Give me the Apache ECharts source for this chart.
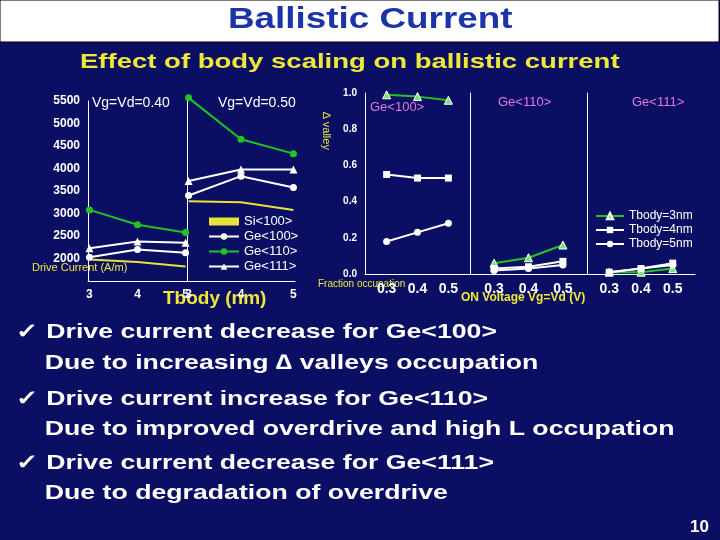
<!DOCTYPE html><html><head><meta charset="utf-8">
<script src="https://cdn.jsdelivr.net/npm/echarts@6/dist/echarts.min.js"></script>
<style>html,body{margin:0;background:#0b0f63}#c{width:720px;height:540px}</style></head><body><div id="c"></div>
<script>
const tbody=[3,4,5];
const si040=[1980,1920,1820], ge100_040=[2030,2200,2130], ge110_040=[3080,2750,2580], ge111_040=[2230,2380,2350];
const si050=[3270,3250,3080], ge100_050=[3400,3830,3580], ge110_050=[5570,4650,4330], ge111_050=[3720,3980,3980];
const vg=[0.3,0.4,0.5];
const g100_3=[0.99,0.98,0.96], g100_4=[0.55,0.53,0.53], g100_5=[0.18,0.23,0.28];
const g110_3=[0.06,0.09,0.16], g110_4=[0.03,0.04,0.07], g110_5=[0.02,0.03,0.05];
const g111_3=[0.01,0.01,0.03], g111_4=[0.01,0.03,0.06], g111_5=[0.01,0.03,0.05];
const bullets=["✓ Drive current decrease for Ge<100>","    Due to increasing ∆ valleys occupation","✓ Drive current increase for Ge<110>","    Due to improved overdrive and high L occupation","✓ Drive current decrease for Ge<111>","    Due to degradation of overdrive"];
const F='Liberation Sans, Arial, sans-serif';
const ax={axisLine:{lineStyle:{color:'#fff'}},axisTick:{show:false},splitLine:{show:false},axisLabel:{color:'#fff',fontFamily:F,fontSize:12,fontWeight:'bold'}};
const z=a=>tbody.map((x,i)=>[x,a[i]]);
const zv=a=>vg.map((x,i)=>[x,a[i]]);
const grids=[{left:88,width:99,top:101,height:180},{left:187,width:108,top:101,height:180},
 {left:365,width:105,top:93,height:181},{left:470,width:117,top:93,height:181},{left:587,width:108,top:93,height:181}];
const xA=[],yA=[];
for(let i=0;i<2;i++){xA.push(Object.assign({},ax,{type:'value',gridIndex:i,min:2.97,max:5.03,interval:1,axisLabel:Object.assign({},ax.axisLabel,{customValues:[3,4,5],formatter:v=>v})}));
 yA.push(Object.assign({},ax,{type:'value',gridIndex:i,min:1500,max:5500,interval:500,axisLine:{show:true,lineStyle:{color:'#fff'}},axisLabel:Object.assign({},ax.axisLabel,{show:i==0,formatter:v=>v==1500?'':v})}));}
for(let i=0;i<3;i++){xA.push(Object.assign({},ax,{type:'value',gridIndex:i+2,min:0.23,max:0.57,axisLabel:Object.assign({},ax.axisLabel,{fontSize:14,customValues:vg,formatter:v=>v.toFixed(1)})}));
 yA.push(Object.assign({},ax,{type:'value',gridIndex:i+2,min:0,max:1,interval:0.2,axisLine:{show:true,lineStyle:{color:'#fff'}},axisLabel:Object.assign({},ax.axisLabel,{fontSize:10,show:i==0,formatter:v=>v.toFixed(1)})}));}
const S=[];
function ln(name,d,gi,color,sym,ss){S.push({name,type:'line',clip:false,data:d,xAxisIndex:gi,yAxisIndex:gi,symbol:sym,symbolSize:ss,lineStyle:{color,width:2},itemStyle:{color:sym=='none'?color:(color=='#22c422'?'#22c422':'#fff')},z:3});}
[[0,[si040,ge100_040,ge110_040,ge111_040]],[1,[si050,ge100_050,ge110_050,ge111_050]]].forEach(([g,a])=>{
 ln('Si<100>',z(a[0]),g,'#e8e23a','none',0);ln('Ge<100>',z(a[1]),g,'#fff','circle',7);ln('Ge<110>',z(a[2]),g,'#22c422','circle',7);ln('Ge<111>',z(a[3]),g,'#fff','triangle',8);});
[[2,[g100_3,g100_4,g100_5]],[3,[g110_3,g110_4,g110_5]],[4,[g111_3,g111_4,g111_5]]].forEach(([g,a])=>{
 S.push({name:'Tbody=3nm',type:'line',clip:false,data:zv(a[0]),xAxisIndex:g,yAxisIndex:g,symbol:'triangle',symbolSize:8,lineStyle:{color:'#22c422',width:2},itemStyle:{color:'#7ee07e',borderColor:'#fff',borderWidth:1}});
 S.push({name:'Tbody=4nm',type:'line',clip:false,data:zv(a[1]),xAxisIndex:g,yAxisIndex:g,symbol:'rect',symbolSize:7,lineStyle:{color:'#fff',width:2},itemStyle:{color:'#fff'}});
 S.push({name:'Tbody=5nm',type:'line',clip:false,data:zv(a[2]),xAxisIndex:g,yAxisIndex:g,symbol:'circle',symbolSize:7,lineStyle:{color:'#fff',width:2},itemStyle:{color:'#fff'}});});
const T=(x,y,t,o,sx)=>({type:'text',x:x,y:y,scaleX:sx||1,style:Object.assign({text:t,fill:'#fff',font:'bold 12px '+F},o||{})});
const el=[{type:'rect',shape:{x:0,y:0,width:719,height:42},style:{fill:'#fff',stroke:'#000',lineWidth:1}},
 T(228,5,'Ballistic Current',{fill:'#1c34a8',font:'bold 29px '+F},1.27),
 T(80,52,'Effect of body scaling on ballistic current',{fill:'#f0e838',font:'bold 21px '+F},1.31),
 T(92,96,'Vg=Vd=0.40',{font:'14px '+F}),T(218,96,'Vg=Vd=0.50',{font:'14px '+F}),
 T(163,289,'Tbody (nm)',{fill:'#f0e838',font:'bold 19px '+F}),
 T(32,262,'Drive Current (A/m)',{fill:'#f0e838',font:'11px '+F}),
 T(370,101,'Ge<100>',{fill:'#e07ae0',font:'13px '+F}),T(498,96,'Ge<110>',{fill:'#e07ae0',font:'13px '+F}),T(632,96,'Ge<111>',{fill:'#e07ae0',font:'13px '+F}),
 {type:'text',x:332,y:112,rotation:-Math.PI/2,style:{text:'∆ valley',fill:'#f0e838',font:'11px '+F}},
 T(318,279,'Fraction occupation',{fill:'#f0e838',font:'10px '+F}),
 T(461,292,'ON Voltage Vg=Vd (V)',{fill:'#f0e838',font:'bold 12px '+F}),
 T(690,519,'10',{font:'bold 17px '+F})];
bullets.forEach((b,i)=>el.push(T(b.startsWith('✓')?16:30,[322,353,389,419,453,483][i],b.replace(/^    /,'  '),{font:'bold 21px '+F},1.27)));
echarts.init(document.getElementById('c')).setOption({backgroundColor:'#0b0f63',animation:false,grid:grids,xAxis:xA,yAxis:yA,series:S,
 legend:[{data:[{name:'Si<100>',icon:'rect',itemStyle:{color:'#e8e23a'}},'Ge<100>','Ge<110>','Ge<111>'],orient:'vertical',left:203,top:210,itemGap:2,itemWidth:30,itemHeight:8,textStyle:{color:'#fff',fontFamily:F,fontSize:13}},
 {data:['Tbody=3nm','Tbody=4nm','Tbody=5nm'],orient:'vertical',left:590,top:205,itemGap:2,itemWidth:28,itemHeight:8,textStyle:{color:'#fff',fontFamily:F,fontSize:12}}],
 graphic:el});
</script></body></html>
